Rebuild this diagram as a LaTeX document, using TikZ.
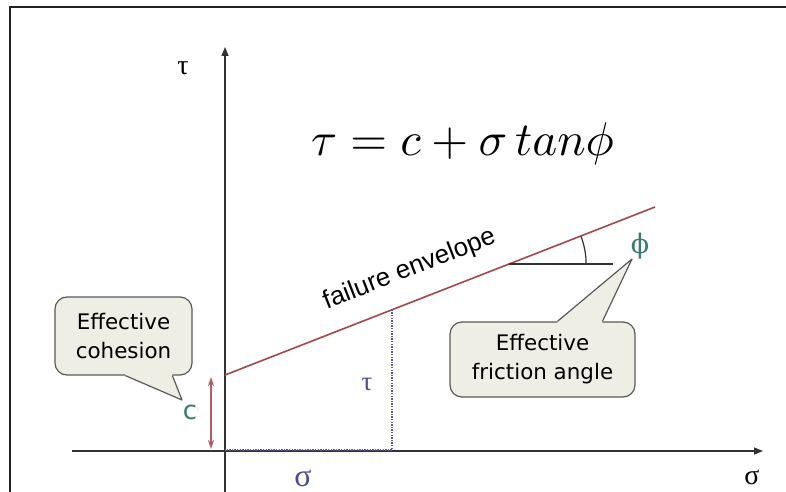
\documentclass[tikz,border=0pt]{standalone}
\usepackage{graphicx}
\usepackage{fontspec}
\setmainfont{Liberation Serif}
\newfontfamily\callfont{DejaVu Sans}
\newfontfamily\arialfont{Liberation Sans}
\newfontfamily\dvserif{DejaVu Serif}
\usetikzlibrary{arrows.meta,calc}
\definecolor{axisc}{HTML}{333333}
\definecolor{framec}{HTML}{222222}
\definecolor{envc}{HTML}{A3474D}
\definecolor{cohc}{HTML}{B05E60}
\definecolor{tealc}{HTML}{3C7A70}
\definecolor{bluec}{HTML}{4B4B96}
\definecolor{dotc}{HTML}{5A5A9C}
\definecolor{calloutfill}{HTML}{EEEEE5}
\definecolor{calloutline}{HTML}{5A5A5A}
\begin{document}
\begin{tikzpicture}[x=1bp,y=-1bp,
  axisline/.style={draw=axisc,line width=1.4bp},
  callbox/.style={draw=calloutline,fill=calloutfill,rounded corners=12bp,line width=1.2bp,
    inner sep=0pt,align=center,font=\callfont\fontsize{21.5}{29}\selectfont},
  tailline/.style={draw=calloutline,line width=1.2bp,line join=round},
  greek/.style={inner sep=0pt,font=\fontsize{28}{30}\selectfont},
  dotline/.style={draw=dotc,line width=1.7bp,dash pattern=on 1.4bp off 1.2bp}]
\useasboundingbox (0,0) rectangle (786,492);
\fill[white] (0,0) rectangle (786,492);
% frame
\draw[framec,line width=2bp] (10,492) -- (10,7) -- (786,7);
% axes
\coordinate (O) at (225,451);
\coordinate (xstart) at (72,451);
\coordinate (xend) at (763,451);
\coordinate (ytop) at (225,47);
\coordinate (ybot) at (225,492);
\draw[axisline,-{Triangle[length=9bp,width=7bp]}] (xstart) -- (xend);
\draw[axisline,-{Triangle[length=9bp,width=7bp]}] (ybot) -- (ytop);
% envelope
\coordinate (env1) at (225,375);
\coordinate (env2) at (655,207);
\draw[envc,line width=1.6bp] (env1) -- (env2);
% dotted tau / sigma
\coordinate (P) at ($(env1)!0.3884!(env2)$);
\coordinate (Q) at (P |- O);
\draw[dotline] (P) -- ([yshift=1bp]Q) -- ([yshift=1bp]O);
% angle
\coordinate (A) at (509.1,264);
\coordinate (Aend) at (613,264);
\draw[axisc,line width=1.2bp] (A) -- (Aend);
\draw[axisc,line width=1.2bp] ([xshift=77bp]A) arc[start angle=0,end angle=21.34,radius=77bp];
% cohesion arrow
\coordinate (c1) at (211,377);
\coordinate (c2) at (211,449);
\draw[cohc,line width=1.3bp,{Stealth[length=9bp,width=6bp]}-{Stealth[length=9bp,width=6bp]}] (c1) -- (c2);
% labels
\node[greek] (tautop) at (183,68) {τ};
\node[greek,anchor=base] (sigright) at (752,484) {σ};
\node[greek,anchor=base,text=bluec,font=\fontsize{32}{34}\selectfont] (sigbot) at (303,486) {σ};
\node[greek,text=bluec,font=\fontsize{27}{30}\selectfont] (tauin) at (367,384) {τ};
\node[greek,text=tealc,font=\dvserif\fontsize{27}{30}\selectfont] (phi) at (640,246) {ϕ};
\node[inner sep=0pt,text=tealc,font=\callfont\fontsize{26}{28}\selectfont] (clab) at (191,412) {c\textcolor{gray!40}{\fontsize{8}{8}\selectfont\raisebox{1.1ex}{'}}};
% failure envelope text
\node[inner sep=0pt,anchor=base,rotate=21.34,font=\arialfont\fontsize{26}{28}\selectfont] (envtext) at (412,276) {failure envelope};
% formula
\node[inner sep=0pt,anchor=base west,font=\normalsize] (formula) at (311,156) {\scalebox{4.75}{$\tau = c + \sigma\, tan\phi$}};
% callouts
\node[callbox,minimum width=137bp,minimum height=78bp] (coh) at (123.5,336) {Effective\\cohesion};
\coordinate (cohtip) at (182,400);
\fill[calloutfill] ([xshift=71bp,yshift=2.5bp]coh.south west) -- ([xshift=71bp,yshift=-0.6bp]coh.south west) -- (cohtip) -- ([xshift=118bp,yshift=-0.6bp]coh.south west) -- ([xshift=118bp,yshift=2.5bp]coh.south west) -- cycle;
\draw[tailline] ([xshift=71bp]coh.south west) -- (cohtip) -- ([xshift=118bp]coh.south west);
\node[callbox,minimum width=185bp,minimum height=75bp] (fric) at (542.5,359.5) {Effective\\friction angle};
\coordinate (frictip) at (632,259);
\fill[calloutfill] ([xshift=108bp,yshift=-2.5bp]fric.north west) -- ([xshift=108bp,yshift=0.6bp]fric.north west) -- (frictip) -- ([xshift=153bp,yshift=0.6bp]fric.north west) -- ([xshift=153bp,yshift=-2.5bp]fric.north west) -- cycle;
\draw[tailline] ([xshift=108bp]fric.north west) -- (frictip) -- ([xshift=153bp]fric.north west);
\end{tikzpicture}
\end{document}
